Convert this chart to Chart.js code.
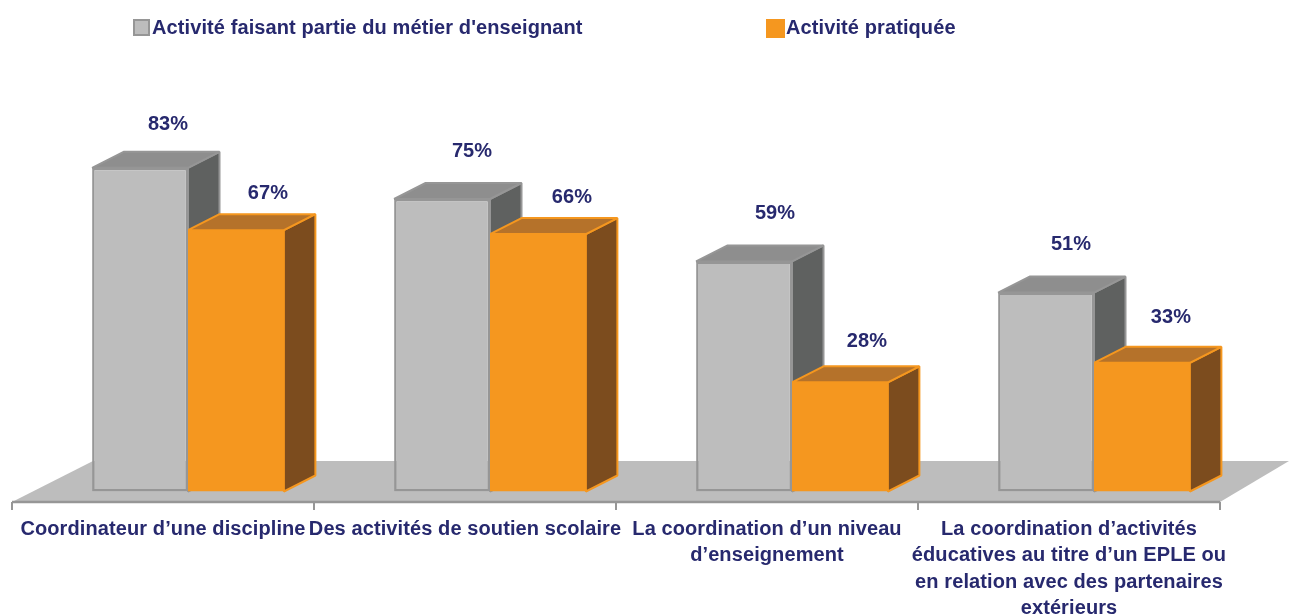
<!DOCTYPE html>
<html><head><meta charset="utf-8">
<style>html,body{margin:0;padding:0;background:#fff}canvas{display:block}</style>
<script src="https://cdn.jsdelivr.net/npm/chart.js@4"></script>
</head><body>
<canvas id="c" width="1289" height="615"></canvas>
<script>
const categories = [
  "Coordinateur d’une discipline",
  "Des activités de soutien scolaire",
  ["La coordination d’un niveau", "d’enseignement"],
  ["La coordination d’activités", "éducatives au titre d’un EPLE ou", "en relation avec des partenaires", "extérieurs"]
];
const seriesNames = ["Activité faisant partie du métier d'enseignant", "Activité pratiquée"];
const metierValues = [83, 75, 59, 51];
const pratiqueeValues = [67, 66, 28, 33];

const INK = "#27296E", FONT = 'bold 20px "Liberation Sans", Arial, sans-serif';
const DX = 31.5, DY = 16, SHIFT = 25;
const faces = [
  {front:"#BDBDBD", line:"#969696", top:"#8E8E8E", side:"#5F6160"},
  {front:"#F5971F", line:"#F5971F", top:"#B5722A", side:"#7C4C1E"}
];
const labelNudge = [
  [[-4,-43],[-2,-48],[-1,-48],[-7,-48]],
  [[0,-37],[2,-37],[-5,-41],[-3,-45]]
];

function poly(ctx, pts, fill, stroke){
  ctx.beginPath();
  pts.forEach((p,i)=> i?ctx.lineTo(p[0],p[1]):ctx.moveTo(p[0],p[1]));
  ctx.closePath();
  ctx.fillStyle = fill; ctx.fill();
  if(stroke){ctx.strokeStyle=stroke;ctx.lineWidth=2;ctx.lineJoin="bevel";ctx.stroke();}
}

const box3d = {
  id:"box3d",
  beforeDraw(chart){ chart.ctx.letterSpacing = "0.1px"; },
  beforeDatasetsDraw(chart){
    const {ctx, scales:{x,y}} = chart;
    const base = y.getPixelForValue(0);
    const step = x.width / categories.length;
    const left = x.left - SHIFT, right = x.right - SHIFT;
    const axisY = base + 10.5;
    ctx.save();
    // floor
    poly(ctx, [[left,axisY],[right,axisY],[right+69,axisY-41],[left+81,axisY-41]], "#BDBDBD");
    // axis and ticks
    ctx.strokeStyle="#969696"; ctx.lineWidth=2.5;
    ctx.beginPath(); ctx.moveTo(left,axisY); ctx.lineTo(right,axisY); ctx.stroke();
    ctx.lineWidth=2;
    for(let i=0;i<=categories.length;i++){
      const tx = left + step*i;
      ctx.beginPath(); ctx.moveTo(tx,axisY); ctx.lineTo(tx,axisY+8); ctx.stroke();
    }
    // depth faces
    chart.data.datasets.forEach((ds,d)=>{
      chart.getDatasetMeta(d).data.forEach(bar=>{
        const p = bar.getProps(["x","y","width"],true);
        const x0 = p.x-p.width/2, x1 = p.x+p.width/2;
        const f = faces[d];
        poly(ctx, [[x1,p.y],[x1+DX,p.y-DY],[x1+DX,base-DY],[x1,base]], f.side, f.line);
        poly(ctx, [[x0,p.y],[x0+DX,p.y-DY],[x1+DX,p.y-DY],[x1,p.y]], f.top, f.line);
      });
    });
    ctx.restore();
  },
  afterDatasetsDraw(chart){
    const {ctx} = chart;
    ctx.save();
    ctx.font = FONT; ctx.fillStyle = INK; ctx.textAlign="center"; ctx.textBaseline="middle";
    chart.data.datasets.forEach((ds,d)=>{
      chart.getDatasetMeta(d).data.forEach((bar,i)=>{
        const p = bar.getProps(["x","y"],true);
        const n = labelNudge[d][i];
        ctx.fillText(ds.data[i]+"%", p.x+32+n[0], p.y+n[1]);
      });
    });
    // legend
    ctx.textAlign="left";
    const keys=[[133,19,17],[766,19,19]];
    chart.data.datasets.forEach((ds,d)=>{
      const [kx,ky,ks]=keys[d];
      ctx.fillStyle=faces[d].front; ctx.fillRect(kx,ky,ks,ks);
      if(d===0){ctx.strokeStyle=faces[0].line;ctx.lineWidth=2;ctx.strokeRect(kx+1,ky+1,ks-2,ks-2);}
      ctx.fillStyle=INK;
      ctx.fillText(ds.label, kx+ks+(d?1:2), 28);
    });
    ctx.restore();
  }
};

new Chart(document.getElementById("c"),{
  type:"bar",
  data:{labels:categories,datasets:[
    {label:seriesNames[0],data:metierValues,backgroundColor:faces[0].front,borderColor:faces[0].line,borderWidth:2.5,borderSkipped:false},
    {label:seriesNames[1],data:pratiqueeValues,backgroundColor:faces[1].front,borderWidth:0}
  ]},
  options:{
    responsive:false,animation:false,
    layout:{padding:{top:101.5,left:37,right:44,bottom:0}},
    datasets:{bar:{barPercentage:1,categoryPercentage:0.635}},
    plugins:{legend:{display:false},tooltip:{enabled:false}},
    scales:{
      y:{display:false,min:0,max:100},
      x:{
        grid:{display:false,drawTicks:false},border:{display:false},
        afterFit(s){s.height=123.5;},
        ticks:{autoSkip:false,maxRotation:0,minRotation:0,padding:25,labelOffset:-SHIFT,color:INK,
          font:{family:'"Liberation Sans", Arial, sans-serif',size:20,weight:"bold",lineHeight:"26.3px"}}
      }
    }
  },
  plugins:[box3d]
});
</script>
</body></html>
